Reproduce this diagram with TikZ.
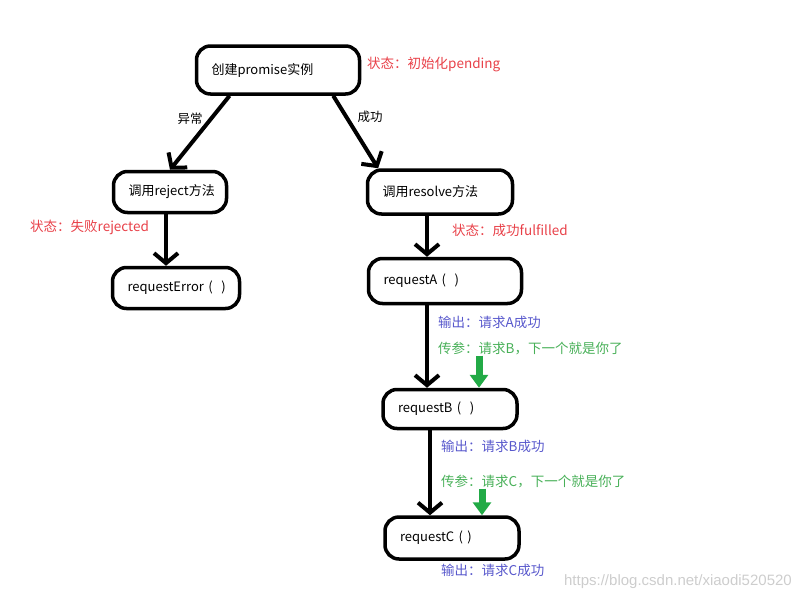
\documentclass[tikz,border=0pt]{standalone}
\usepackage{fontspec}
\setmainfont{Noto Sans CJK SC}
\newfontfamily\markfont{Liberation Sans}
\usetikzlibrary{arrows.meta}
\definecolor{statered}{RGB}{232,64,72}
\definecolor{outblue}{RGB}{88,88,204}
\definecolor{paramgreen}{RGB}{72,176,88}
\definecolor{arrowgreen}{RGB}{34,170,70}
\definecolor{markgray}{RGB}{205,205,205}
\begin{document}
\begin{tikzpicture}[x=1pt, y=-1pt,
    box/.style={draw=black, line width=3.5pt, rounded corners=14pt, align=left, inner xsep=0pt,
      font=\fontsize{13}{16}\selectfont},
    flow/.style={line width=4pt, -{Straight Barb[length=10pt,width=24pt]}},
    hint/.style={anchor=west, inner sep=0pt, font=\fontsize{13.5}{16}\selectfont},
    push/.style={arrowgreen, line width=7pt, -{Triangle[length=13pt,width=18pt]}}]
  \useasboundingbox (0,0) rectangle (801,600);

  \foreach \name/\x/\y/\w/\h/\txt in {create/278/70/163/48/{创建promise实例},
      reject/170/192/113/41/{调用reject方法},
      requestError/176/288/127/41/{requestError ( \ )},
      resolve/440/192/145/44/{调用resolve方法},
      requestA/445/281/153/45/{requestA ( \ )},
      requestB/450/409/134/39/{requestB ( \ )},
      requestC/452/538/134/42/{requestC ( )}} {
    \node[box, text width=\w pt-30pt, minimum width=\w pt, minimum height=\h pt] (\name) at (\x,\y) {\mbox{\txt}};
  }

  \foreach \name/\x/\y/\col/\txt in {stateInit/367/64/statered/{状态：初始化pending},
      stateReject/30/227/statered/{状态：失败rejected},
      stateFulfil/452/230/statered/{状态：成功fulfilled},
      outA/438/322/outblue/{输出：请求A成功},
      paramB/438/349/paramgreen/{传参：请求B，下一个就是你了},
      outB/441/446/outblue/{输出：请求B成功},
      paramC/441/482/paramgreen/{传参：请求C，下一个就是你了},
      outC/441/570/outblue/{输出：请求C成功}} {
    \node[hint, text=\col] (\name) at (\x,\y) {\txt};
  }

  \node[font=\fontsize{12.5}{15}\selectfont] (error) at (190,119) {异常};
  \node[font=\fontsize{12.5}{15}\selectfont] (success) at (370,117) {成功};

  \draw[flow] (create.208) -- (reject.north);
  \draw[flow] (create.335) -- (resolve.159);
  \draw[flow] ([xshift=-4pt]reject.south) -- ([xshift=-4pt]reject.south |- requestError.north);
  \draw[flow] ([xshift=-13pt]resolve.south) -- ([xshift=-13pt]resolve.south |- requestA.north);
  \draw[flow] ([xshift=-18pt]requestA.south) -- ([xshift=-18pt]requestA.south |- requestB.north);
  \draw[flow] ([xshift=-20pt]requestB.south) -- ([xshift=-20pt]requestB.south |- requestC.north);

  \draw[push] ([xshift=29pt]requestB.north |- paramB.south) -- ([xshift=29pt]requestB.north);
  \draw[push] ([xshift=30pt]requestC.north |- paramC.south) -- ([xshift=30pt]requestC.north);

  \node[anchor=east, inner sep=0pt, text=markgray, font=\markfont\fontsize{15}{17}\selectfont] (mark) at (792,582) {https://blog.csdn.net/xiaodi520520};
\end{tikzpicture}
\end{document}
